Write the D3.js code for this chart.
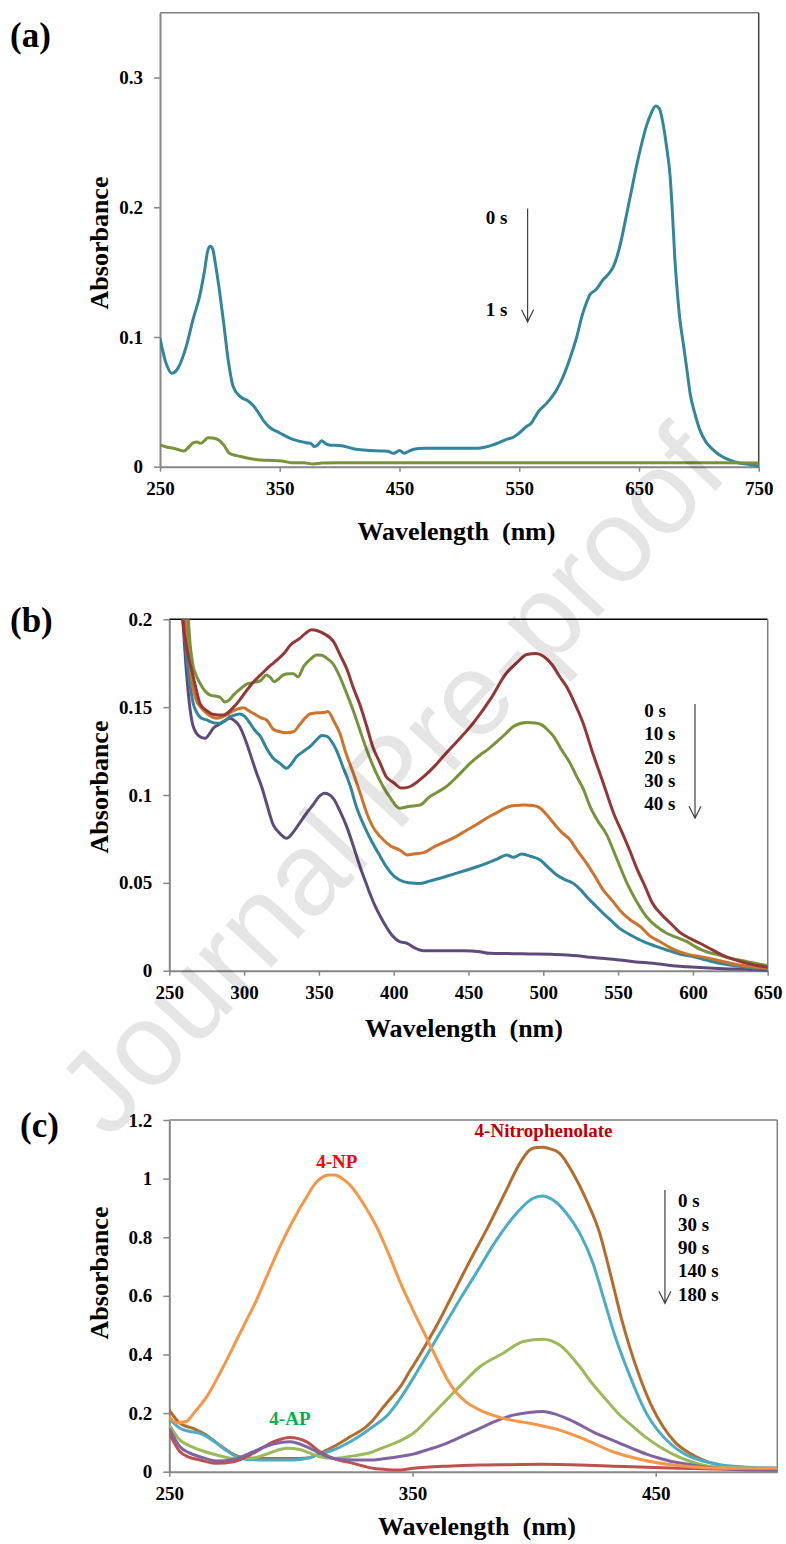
<!DOCTYPE html>
<html>
<head>
<meta charset="utf-8">
<script src="https://cdn.jsdelivr.net/npm/d3@7"></script>
<style>
html, body { margin: 0; padding: 0; background: #fff; }
svg { display: block; }
text { font-family: "Liberation Serif", "Times New Roman", serif; font-weight: bold; }
</style>
</head>
<body>
<svg id="chart" width="786" height="1544"></svg>
<script>
// ---- panel (a): methylene blue, [wavelength nm, absorbance]
const a0s = [[250,0.099],[255,0.080],[260,0.072],[265,0.076],[272,0.093],[278,0.115],[283,0.131],[287,0.150],[290,0.167],[292,0.170],[294,0.168],[296,0.158],[299,0.140],[303,0.112],[307,0.082],[311,0.062],[317,0.054],[323,0.051],[328,0.047],[332,0.042],[336,0.036],[342,0.030],[348,0.027],[353,0.0245],[361,0.021],[367,0.0195],[372,0.0185],[376,0.018],[379,0.0155],[382,0.017],[385,0.020],[388,0.018],[391,0.0168],[397,0.0165],[403,0.016],[409,0.0145],[414,0.0134],[425,0.0125],[434,0.0121],[440,0.012],[445,0.0103],[450,0.0124],[454,0.0103],[458,0.012],[462,0.0134],[470,0.0142],[490,0.0142],[515,0.0142],[522,0.0152],[528,0.0168],[534,0.019],[540,0.0212],[545,0.0227],[550,0.026],[556,0.031],[560,0.0335],[563,0.038],[566,0.0425],[573,0.049],[581,0.059],[586,0.068],[590,0.0772],[594,0.088],[598,0.100],[603,0.118],[606,0.126],[609,0.1326],[614,0.1364],[620,0.144],[625,0.149],[629,0.155],[632,0.163],[636,0.178],[640,0.196],[644,0.214],[648,0.232],[652,0.248],[656,0.262],[660,0.272],[664,0.278],[667,0.276],[670,0.265],[673,0.247],[676,0.224],[678,0.195],[680,0.160],[682,0.135],[684,0.115],[687,0.095],[690,0.075],[693,0.055],[697,0.040],[701,0.028],[706,0.019],[712,0.013],[719,0.008],[726,0.005],[733,0.003],[740,0.002],[750,0.0005]];
const a1s = [[250,0.0168],[256,0.015],[261,0.0142],[266,0.013],[270,0.0121],[274,0.015],[278,0.0185],[281,0.019],[284,0.018],[287,0.020],[290,0.0224],[294,0.0222],[299,0.0206],[303,0.017],[308,0.0103],[314,0.0085],[320,0.0073],[327,0.006],[334,0.0052],[340,0.005],[348,0.0046],[353,0.0042],[359,0.0031],[365,0.003],[370,0.003],[378,0.0021],[385,0.0028],[400,0.003],[500,0.003],[600,0.003],[700,0.003],[750,0.0028]];
const aXTicks = [250, 350, 450, 550, 650, 750];
const aYTicks = [0, 0.1, 0.2, 0.3];
const aTimes = ['0 s', '1 s'];

// ---- panel (b)
const b0s = [[250,0.35],[255,0.26],[259,0.20],[262,0.182],[265,0.171],[268,0.160],[270.5,0.152],[275,0.148],[279,0.146],[286,0.1455],[293,0.150],[297,0.154],[302,0.1598],[307,0.165],[313,0.170],[318,0.174],[322,0.1769],[327,0.181],[331,0.1854],[337,0.189],[341,0.192],[345,0.194],[349,0.1935],[353,0.192],[360,0.187],[364,0.180],[369,0.171],[373,0.161],[378,0.150],[382,0.139],[386,0.1275],[391,0.118],[395,0.1104],[400,0.107],[405,0.104],[410,0.1045],[415,0.107],[420,0.1104],[428,0.117],[435,0.1238],[444,0.132],[453,0.1408],[465,0.155],[475,0.169],[482,0.175],[489,0.180],[495,0.1805],[500,0.179],[506,0.174],[511,0.1673],[516,0.161],[520,0.154],[527,0.140],[533,0.124],[540,0.107],[547,0.0896],[553,0.078],[558,0.068],[562,0.0592],[568,0.048],[573,0.0384],[579,0.032],[585,0.027],[591,0.022],[598,0.0184],[605,0.0155],[611,0.0128],[617,0.010],[622,0.008],[629,0.006],[636,0.0042],[643,0.003],[650,0.002]];
const b10s = [[250,0.36],[256,0.26],[262.7,0.20],[264,0.185],[266,0.173],[268,0.168],[270.5,0.1636],[274,0.159],[277,0.157],[284,0.1556],[287,0.153],[290,0.154],[293,0.157],[297,0.160],[302,0.1632],[306,0.164],[311,0.1651],[315,0.1683],[317.5,0.167],[320,0.1645],[323,0.166],[326,0.1683],[330,0.169],[333,0.169],[336,0.1673],[340,0.1735],[344,0.177],[348.5,0.1797],[352,0.1795],[355,0.178],[360,0.174],[364,0.1673],[368,0.159],[373,0.148],[377,0.138],[382,0.1256],[387,0.115],[393,0.1047],[398,0.098],[404,0.0925],[410,0.0935],[417.6,0.0943],[424,0.099],[430,0.102],[435,0.1047],[443,0.111],[451,0.118],[457.7,0.1228],[463,0.126],[469,0.1304],[475,0.135],[480,0.139],[489,0.1412],[495,0.141],[499,0.1399],[503,0.137],[507,0.1332],[512,0.126],[518,0.118],[522,0.111],[527,0.1029],[531,0.094],[536,0.0858],[542,0.078],[549,0.064],[556,0.0497],[562,0.040],[569,0.0307],[576,0.025],[582.5,0.0213],[589,0.019],[596,0.0165],[603,0.013],[609,0.0108],[617,0.009],[625,0.0071],[637,0.005],[650,0.0028]];
const b20s = [[250,0.33],[255,0.25],[261,0.20],[263,0.18],[265,0.1655],[268,0.154],[271,0.150],[275,0.1465],[282,0.1437],[288,0.1455],[293,0.148],[299.5,0.1497],[303,0.148],[306,0.1465],[311,0.144],[315,0.1427],[319.5,0.1374],[324,0.136],[328.5,0.1355],[333,0.136],[337,0.1399],[341,0.144],[344,0.1461],[349,0.1468],[353,0.1469],[356,0.1475],[360,0.142],[364,0.1351],[368,0.124],[373,0.1124],[378,0.100],[382,0.0896],[386,0.082],[391,0.0763],[398,0.071],[404,0.0687],[409,0.0659],[414,0.0665],[420,0.0672],[426,0.070],[433,0.0729],[441,0.076],[449,0.0801],[456,0.0835],[462,0.0868],[469,0.090],[475.5,0.093],[481,0.094],[487,0.0943],[493,0.094],[498,0.0925],[502,0.089],[507,0.0839],[512,0.079],[518,0.0744],[523,0.068],[529,0.0611],[535,0.053],[540,0.046],[546,0.040],[551,0.0346],[558,0.029],[565,0.025],[571,0.020],[578,0.0165],[585,0.013],[591,0.0108],[598,0.009],[605,0.008],[618,0.0057],[631,0.0032],[650,0.0014]];
const b30s = [[250,0.34],[255,0.25],[260,0.195],[262,0.175],[264,0.1617],[266,0.152],[268,0.1475],[271,0.144],[275,0.1427],[280,0.141],[284,0.1408],[287,0.142],[290.6,0.1446],[294,0.1455],[297,0.1461],[300,0.145],[304,0.1408],[307,0.137],[311,0.1332],[315,0.1266],[319.5,0.1209],[324,0.118],[328.5,0.1152],[331,0.117],[335,0.1218],[340,0.125],[344,0.1275],[348,0.131],[352,0.1338],[355,0.1335],[358.6,0.1304],[362,0.125],[366,0.1161],[371,0.105],[375,0.0934],[381,0.081],[386,0.0725],[391,0.065],[395,0.0592],[400,0.054],[404,0.0516],[410,0.050],[418,0.0497],[424,0.051],[431,0.0526],[440,0.055],[449,0.0573],[455,0.059],[462,0.0611],[469,0.0635],[475.5,0.0659],[480,0.0645],[485.5,0.0664],[492,0.065],[498,0.063],[503,0.059],[509,0.0545],[514,0.052],[520,0.0497],[525,0.046],[529,0.0421],[535,0.037],[540,0.0327],[546,0.028],[551,0.0241],[559,0.020],[567,0.0165],[575,0.014],[582.5,0.0118],[591,0.0095],[600,0.008],[609,0.006],[618,0.0042],[627,0.003],[636,0.0019],[650,0.001]];
const b40s = [[250,0.36],[255,0.26],[259,0.20],[261,0.175],[262.7,0.158],[264,0.148],[266,0.139],[270.5,0.1332],[274,0.1323],[277,0.135],[279.4,0.138],[283,0.140],[286,0.1418],[290.6,0.1437],[294,0.142],[297,0.139],[301.7,0.1294],[305,0.121],[308.4,0.1124],[312,0.104],[315,0.0953],[319.5,0.083],[323,0.079],[328.5,0.0754],[333,0.079],[337,0.0839],[342,0.090],[346,0.0943],[350,0.099],[354,0.101],[359.6,0.0981],[364,0.091],[368.6,0.082],[373,0.071],[377.5,0.0592],[381,0.051],[384,0.0441],[388,0.036],[391,0.031],[395,0.025],[399,0.020],[404,0.0165],[409,0.0156],[414,0.013],[420,0.0114],[430,0.0114],[446.6,0.0114],[457.7,0.0108],[464,0.0099],[480,0.0097],[491,0.0095],[505,0.0093],[516,0.009],[523,0.0085],[531,0.0076],[541,0.007],[551,0.0061],[562,0.005],[573.5,0.0042],[585,0.003],[596,0.0023],[605,0.0018],[614,0.0014],[625,0.001],[636,0.0008],[650,0.0002]];
const bXTicks = [250, 300, 350, 400, 450, 500, 550, 600, 650];
const bYTicks = [0, 0.05, 0.1, 0.15, 0.2];
const bTimes = ['0 s', '10 s', '20 s', '30 s', '40 s'];

// ---- panel (c): 4-nitrophenol reduction
const c4NP = [[250,0.188],[253,0.167],[257,0.171],[260,0.199],[265.4,0.256],[270.8,0.336],[276.3,0.426],[281.8,0.518],[285,0.57],[290,0.665],[295.5,0.768],[301,0.859],[306.5,0.938],[310.6,0.989],[313,1.005],[315.4,1.012],[318,1.012],[320.1,1.006],[322,0.995],[324.3,0.978],[327,0.95],[329.7,0.916],[335.2,0.836],[340.7,0.733],[345,0.645],[350,0.555],[355,0.47],[360,0.385],[364,0.32],[368,0.27],[372,0.238],[377.7,0.21],[387.3,0.182],[398.2,0.165],[404,0.155],[410.5,0.142],[421.5,0.108],[432.4,0.068],[444.8,0.040],[457.1,0.023],[470.8,0.0137],[485,0.012],[500,0.0115]];
const c0s = [[250,0.21],[254.4,0.165],[260,0.147],[265,0.126],[270,0.095],[275,0.066],[278,0.053],[282,0.047],[290,0.045],[300,0.045],[307,0.047],[312,0.063],[317.4,0.085],[324.3,0.119],[331,0.154],[334,0.178],[337,0.21],[341,0.25],[345,0.29],[349,0.345],[353,0.398],[357,0.455],[361,0.515],[365,0.58],[369,0.645],[373,0.71],[380.4,0.825],[388.6,0.961],[394.1,1.052],[398.2,1.098],[401,1.106],[403.7,1.107],[406,1.103],[410.5,1.086],[416,1.018],[421.5,0.927],[427,0.813],[430,0.72],[433,0.62],[436,0.52],[439.5,0.42],[443.4,0.324],[448,0.23],[453,0.154],[458,0.10],[464,0.063],[472,0.032],[480.4,0.017],[490,0.013],[500,0.0115]];
const c30s = [[250,0.182],[254.4,0.148],[258,0.138],[262.6,0.131],[266,0.117],[269.5,0.097],[273,0.075],[276.3,0.057],[281.8,0.042],[290,0.040],[298,0.040],[303.7,0.042],[308,0.049],[311.9,0.060],[317.4,0.074],[325.6,0.108],[333.8,0.154],[340,0.195],[345,0.25],[350,0.315],[355,0.385],[360,0.455],[365,0.525],[370,0.595],[376,0.675],[384.5,0.790],[392.8,0.882],[399.6,0.933],[403.7,0.941],[407.8,0.927],[413.3,0.882],[418.8,0.813],[424.2,0.711],[429,0.58],[433,0.47],[437.9,0.358],[446.2,0.199],[455.8,0.097],[462,0.06],[468.1,0.040],[476,0.025],[484.5,0.017],[500,0.012]];
const c90s = [[250,0.159],[254.4,0.108],[258,0.09],[262.6,0.074],[269.5,0.057],[276.3,0.0455],[283.2,0.0455],[290,0.060],[294,0.072],[298.2,0.080],[303.7,0.076],[307,0.066],[311.9,0.051],[317.4,0.0455],[325.6,0.054],[333.8,0.068],[336.6,0.078],[344.8,0.105],[350.3,0.131],[357,0.185],[364,0.245],[371,0.305],[377.7,0.358],[387.3,0.404],[395.5,0.444],[403.7,0.452],[410.5,0.432],[418.8,0.358],[424,0.30],[429.7,0.245],[435,0.195],[440.7,0.154],[446,0.117],[451.6,0.085],[457,0.06],[462.6,0.040],[468,0.026],[473.5,0.017],[487.3,0.0115],[500,0.01]];
const c140s = [[250,0.148],[254.4,0.085],[258,0.065],[262.6,0.051],[269.5,0.0365],[276.3,0.042],[284.5,0.068],[292.7,0.0945],[299.6,0.102],[306.5,0.085],[311.9,0.063],[317.4,0.0455],[325.6,0.040],[333.8,0.040],[338,0.044],[344.8,0.052],[350.3,0.060],[357,0.077],[364,0.097],[370.8,0.122],[377.7,0.148],[384,0.172],[391.4,0.193],[398,0.202],[403.7,0.205],[408,0.198],[413.3,0.182],[418.8,0.16],[424.2,0.136],[429.7,0.116],[435.2,0.097],[440.7,0.078],[446.2,0.060],[451.6,0.046],[457.1,0.034],[462.6,0.026],[468.1,0.019],[477,0.011],[487.3,0.006],[500,0.005]];
const c180s = [[250,0.131],[254.4,0.068],[258,0.05],[262.6,0.040],[269.5,0.0285],[276.3,0.034],[284.5,0.063],[292.7,0.102],[299.6,0.117],[306.5,0.102],[311.9,0.068],[317.4,0.0455],[325.6,0.0285],[333.8,0.0115],[340,0.007],[344.8,0.006],[350.3,0.0115],[364,0.019],[377.7,0.023],[390,0.024],[403.7,0.025],[418.8,0.023],[432.5,0.019],[446.2,0.015],[460,0.012],[473.5,0.009],[500,0.006]];
const cXTicks = [250, 350, 450];
const cYTicks = [0, 0.2, 0.4, 0.6, 0.8, 1, 1.2];
const cTimes = ['0 s', '30 s', '90 s', '140 s', '180 s'];

const svg = d3.select('#chart');
const axisGray = '#868686';

function drawPanel(p) {
    const x = d3.scaleLinear().domain(p.xDomain).range([p.left, p.right]);
    const y = d3.scaleLinear().domain(p.yDomain).range([p.bottom, p.top]);
    const g = svg.append('g');

    g.append('clipPath').attr('id', 'clip-' + p.name)
        .append('rect')
        .attr('x', p.left).attr('y', p.top)
        .attr('width', p.right - p.left + 3).attr('height', p.bottom - p.top + 3);

    // top and right edges of the plot frame
    g.append('line').attr('x1', p.left).attr('x2', p.right).attr('y1', p.top).attr('y2', p.top)
        .attr('stroke', p.topColor).attr('stroke-width', 1.5);
    g.append('line').attr('x1', p.right).attr('x2', p.right).attr('y1', p.top).attr('y2', p.bottom)
        .attr('stroke', p.rightColor).attr('stroke-width', 1.5);

    const xAxis = g.append('g').attr('transform', `translate(0,${p.bottom})`)
        .call(d3.axisBottom(x).tickValues(p.xTicks).tickFormat(String).tickSize(5).tickSizeOuter(0).tickPadding(10));
    const yAxis = g.append('g').attr('transform', `translate(${p.left},0)`)
        .call(d3.axisLeft(y).tickValues(p.yTicks).tickFormat(String).tickSize(6).tickSizeOuter(0).tickPadding(11));
    [xAxis, yAxis].forEach((ax) => {
        ax.select('.domain').attr('stroke', axisGray).attr('stroke-width', 2);
        ax.selectAll('.tick line').attr('stroke', axisGray).attr('stroke-width', 1.5);
        ax.selectAll('.tick text').attr('fill', '#000').style('font-size', '19px')
            .style('font-family', '"Liberation Serif", serif').style('font-weight', 'bold');
    });

    const line = d3.line().x((d) => x(d[0])).y((d) => y(d[1])).curve(d3.curveMonotoneX);
    g.append('g').attr('clip-path', `url(#clip-${p.name})`)
        .selectAll('path').data(p.series).join('path')
        .attr('d', (s) => line(s.values))
        .attr('fill', 'none')
        .attr('stroke', (s) => s.color)
        .attr('stroke-width', 3)
        .attr('stroke-linejoin', 'round');

    // axis titles and panel letter
    g.append('text').attr('transform', `translate(108,${p.yTitleY}) rotate(-90)`)
        .attr('text-anchor', 'middle').style('font-size', '26px').text('Absorbance');
    g.append('text').attr('x', p.xTitleX).attr('y', p.xTitleY)
        .attr('text-anchor', 'middle').style('font-size', '26px').style('white-space', 'pre')
        .text('Wavelength  (nm)');
    g.append('text').attr('x', p.letterX).attr('y', p.letterY)
        .style('font-size', '35px').text(p.letter);

    return {x, y, g};
}

function arrowDown(g, px, y0, y1) {
    g.append('path')
        .attr('d', `M${px},${y0}V${y1}M${px - 6},${y1 - 12}L${px},${y1}L${px + 6},${y1 - 12}`)
        .attr('fill', 'none').attr('stroke', '#404040').attr('stroke-width', 1.2);
}

// panel (a)
const pa = drawPanel({
    name: 'a', letter: '(a)', letterX: 10, letterY: 47,
    left: 160, right: 758.7, top: 12.7, bottom: 466.7,
    xDomain: [250, 750], yDomain: [0, 0.35], xTicks: aXTicks, yTicks: aYTicks,
    topColor: '#7f7f7f', rightColor: '#404040',
    yTitleY: 243, xTitleX: 456.5, xTitleY: 540,
    series: [{values: a0s, color: '#31859c'}, {values: a1s, color: '#77933c'}]
});
pa.g.selectAll('.times').data(aTimes).join('text')
    .attr('x', pa.x(522)).attr('y', (d, i) => pa.y(i === 0 ? 0.1874 : 0.1158))
    .style('font-size', '19px').text((d) => d);
arrowDown(pa.g, pa.x(557), pa.y(0.199), pa.y(0.1117));

// panel (b)
const pb = drawPanel({
    name: 'b', letter: '(b)', letterX: 10, letterY: 632,
    left: 169.3, right: 767.7, top: 619.3, bottom: 970.7,
    xDomain: [250, 650], yDomain: [0, 0.2], xTicks: bXTicks, yTicks: bYTicks,
    topColor: '#000', rightColor: '#7f7f7f',
    yTitleY: 787, xTitleX: 464, xTitleY: 1037,
    series: [
        {values: b40s, color: '#604a7b'},
        {values: b30s, color: '#31859c'},
        {values: b20s, color: '#cd732d'},
        {values: b10s, color: '#77933c'},
        {values: b0s, color: '#953735'}
    ]
});
pb.g.selectAll('.times').data(bTimes).join('text')
    .attr('x', pb.x(567.5)).attr('y', (d, i) => pb.y(0.1443) + i * 23.2)
    .style('font-size', '19px').text((d) => d);
arrowDown(pb.g, pb.x(601.4), pb.y(0.1518), pb.y(0.0868));

// panel (c)
const pc = drawPanel({
    name: 'c', letter: '(c)', letterX: 20, letterY: 1137,
    left: 169.3, right: 777.3, top: 1120, bottom: 1471.7,
    xDomain: [250, 500], yDomain: [0, 1.2], xTicks: cXTicks, yTicks: cYTicks,
    topColor: '#7f7f7f', rightColor: '#7f7f7f',
    yTitleY: 1273, xTitleX: 477, xTitleY: 1535,
    series: [
        {values: c0s, color: '#b46c2c'},
        {values: c30s, color: '#4bacc6'},
        {values: c90s, color: '#9bbb59'},
        {values: c180s, color: '#c0504d'},
        {values: c140s, color: '#8064a2'},
        {values: c4NP, color: '#f79646'}
    ]
});
pc.g.selectAll('.times').data(cTimes).join('text')
    .attr('x', pc.x(459.2)).attr('y', (d, i) => pc.y(0.902) + i * 23.35)
    .style('font-size', '19px').text((d) => d);
arrowDown(pc.g, pc.x(453.8), pc.y(0.961), pc.y(0.5745));
pc.g.append('text').attr('x', pc.x(318.9)).attr('y', pc.y(1.035)).attr('text-anchor', 'middle')
    .attr('fill', '#ff0000').style('font-size', '19px').text('4-NP');
pc.g.append('text').attr('x', pc.x(403.9)).attr('y', pc.y(1.143)).attr('text-anchor', 'middle')
    .attr('fill', '#c00000').style('font-size', '19px').text('4-Nitrophenolate');
pc.g.append('text').attr('x', pc.x(299.6)).attr('y', pc.y(0.159)).attr('text-anchor', 'middle')
    .attr('fill', '#00b050').style('font-size', '19px').text('4-AP');

// watermark
svg.append('text')
    .attr('transform', 'translate(390,780) rotate(-47)')
    .attr('text-anchor', 'middle').attr('dominant-baseline', 'central')
    .style('font-family', '"Liberation Sans", Arial, sans-serif').style('font-weight', 'normal')
    .style('font-size', '118px').attr('fill', '#000').attr('fill-opacity', 0.1)
    .text('Journal Pre-proof');
</script>
</body>
</html>
